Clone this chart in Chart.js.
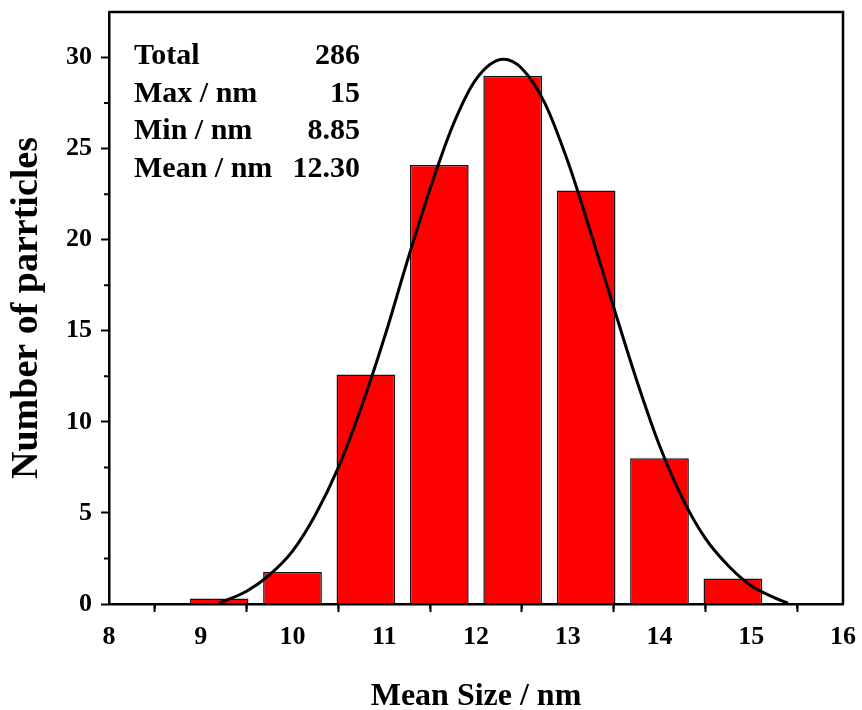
<!DOCTYPE html>
<html>
<head>
<meta charset="utf-8">
<script src="https://cdn.jsdelivr.net/npm/chart.js@4.4.1/dist/chart.umd.min.js"></script>
<style>
  html, body { margin: 0; padding: 0; background: #fff; }
  #wrap { width: 862px; height: 710px; }
</style>
</head>
<body>
<div id="wrap"><canvas id="hist" width="862" height="710"></canvas></div>
<script>
// histogram bins (centres, nm) and counts
const binCenters = [9.2, 10.0, 10.8, 11.6, 12.4, 13.2, 14.0, 14.8];
const counts = [0.3, 1.75, 12.6, 24.1, 29.0, 22.7, 8.0, 1.4];

// gaussian fit curve
const fitX = [9.2, 9.5, 9.75, 10, 10.25, 10.5, 10.75, 11, 11.25, 11.5, 11.75, 12, 12.3,
  12.5, 12.75, 13, 13.25, 13.5, 13.75, 14, 14.25, 14.5, 14.75, 15, 15.25, 15.4];
const fitY = [0.05, 0.7, 1.6, 2.9, 4.9, 7.5, 10.8, 14.6, 18.8, 22.8, 26.3, 28.8, 29.9,
  29.4, 27.5, 24.3, 20.4, 16.3, 12.3, 8.7, 5.8, 3.6, 2.1, 1.0, 0.35, 0.05];

// axes
const xRange = [8, 16];
const yRange = [0, 32.5];
const xStep = 1;
const yStep = 5;

// stats box
const statLabels = ["Total", "Max / nm", "Min / nm", "Mean / nm"];
const statValues = ["286", "15", "8.85", "12.30"];

const FONT = "'Liberation Serif', 'Times New Roman', serif";

// closed frame, minor ticks and the stats text
const extras = {
  id: "extras",
  afterDraw(chart) {
    const ctx = chart.ctx;
    const a = chart.chartArea;
    const xs = chart.scales.x, ys = chart.scales.y;
    ctx.save();
    ctx.strokeStyle = "#000";
    ctx.lineWidth = 2.5;
    ctx.beginPath();
    ctx.moveTo(a.left, a.top);
    ctx.lineTo(a.right, a.top);
    ctx.lineTo(a.right, a.bottom);
    ctx.stroke();

    // minor ticks
    ctx.lineWidth = 2;
    ctx.beginPath();
    for (let v = xRange[0] + xStep / 2; v < xRange[1]; v += xStep) {
      const px = xs.getPixelForValue(v);
      ctx.moveTo(px, a.bottom);
      ctx.lineTo(px, a.bottom + 5);
    }
    for (let v = yRange[0] + yStep / 2; v < yRange[1]; v += yStep) {
      const py = ys.getPixelForValue(v);
      ctx.moveTo(a.left, py);
      ctx.lineTo(a.left - 5, py);
    }
    ctx.stroke();

    // stats
    ctx.fillStyle = "#000";
    ctx.font = "bold 30px " + FONT;
    ctx.textBaseline = "alphabetic";
    for (let i = 0; i < statLabels.length; i++) {
      const y = a.top + 52 + i * 37.7;
      ctx.textAlign = "left";
      ctx.fillText(statLabels[i], a.left + 25, y);
      ctx.textAlign = "right";
      ctx.fillText(statValues[i], a.left + 251, y);
    }
    ctx.restore();
  }
};

new Chart(document.getElementById("hist"), {
  type: "bar",
  data: {
    datasets: [
      {
        type: "line",
        label: "Gauss fit",
        data: fitX.map((x, i) => ({ x: x, y: fitY[i] })),
        borderColor: "#000",
        borderWidth: 3,
        pointRadius: 0,
        fill: false,
        cubicInterpolationMode: "monotone",
        order: 0
      },
      {
        type: "bar",
        label: "Counts",
        data: binCenters.map((x, i) => ({ x: x, y: counts[i] })),
        backgroundColor: "#ff0000",
        borderColor: "#111",
        borderWidth: 1.5,
        categoryPercentage: 1,
        barPercentage: 0.8,
        order: 1
      }
    ]
  },
  options: {
    responsive: false,
    animation: false,
    layout: { padding: { left: 0, top: 12, right: 19, bottom: 0 } },
    plugins: {
      legend: { display: false },
      tooltip: { enabled: false }
    },
    scales: {
      x: {
        type: "linear",
        min: xRange[0],
        max: xRange[1],
        offset: false,
        afterFit(s) {
          s.height = 106;
          s.paddingLeft = 0;
          s.paddingRight = 0;
        },
        ticks: {
          stepSize: xStep,
          color: "#000",
          padding: 10,
          maxRotation: 0,
          font: { family: FONT, weight: "bold", size: 26 }
        },
        grid: {
          drawOnChartArea: false,
          drawTicks: true,
          tickLength: 8,
          tickWidth: 2,
          tickColor: "#000"
        },
        border: { display: true, color: "#000", width: 2.5 },
        title: {
          display: true,
          text: "Mean Size / nm",
          color: "#000",
          padding: { top: 0, bottom: 0 },
          font: { family: FONT, weight: "bold", size: 32, lineHeight: 0.85 }
        }
      },
      y: {
        min: yRange[0],
        max: yRange[1],
        afterFit(s) {
          s.width = 109;
          s.paddingTop = 0;
          s.paddingBottom = 0;
        },
        ticks: {
          stepSize: yStep,
          includeBounds: false,
          color: "#000",
          padding: 9,
          font: { family: FONT, weight: "bold", size: 26 }
        },
        grid: {
          drawOnChartArea: false,
          drawTicks: true,
          tickLength: 8,
          tickWidth: 2,
          tickColor: "#000"
        },
        border: { display: true, color: "#000", width: 2.5 },
        title: {
          display: true,
          text: "Number of parrticles",
          color: "#000",
          padding: { top: 8, bottom: 0 },
          font: { family: FONT, weight: "bold", size: 38, lineHeight: 1 }
        }
      }
    }
  },
  plugins: [extras]
});
</script>
</body>
</html>
